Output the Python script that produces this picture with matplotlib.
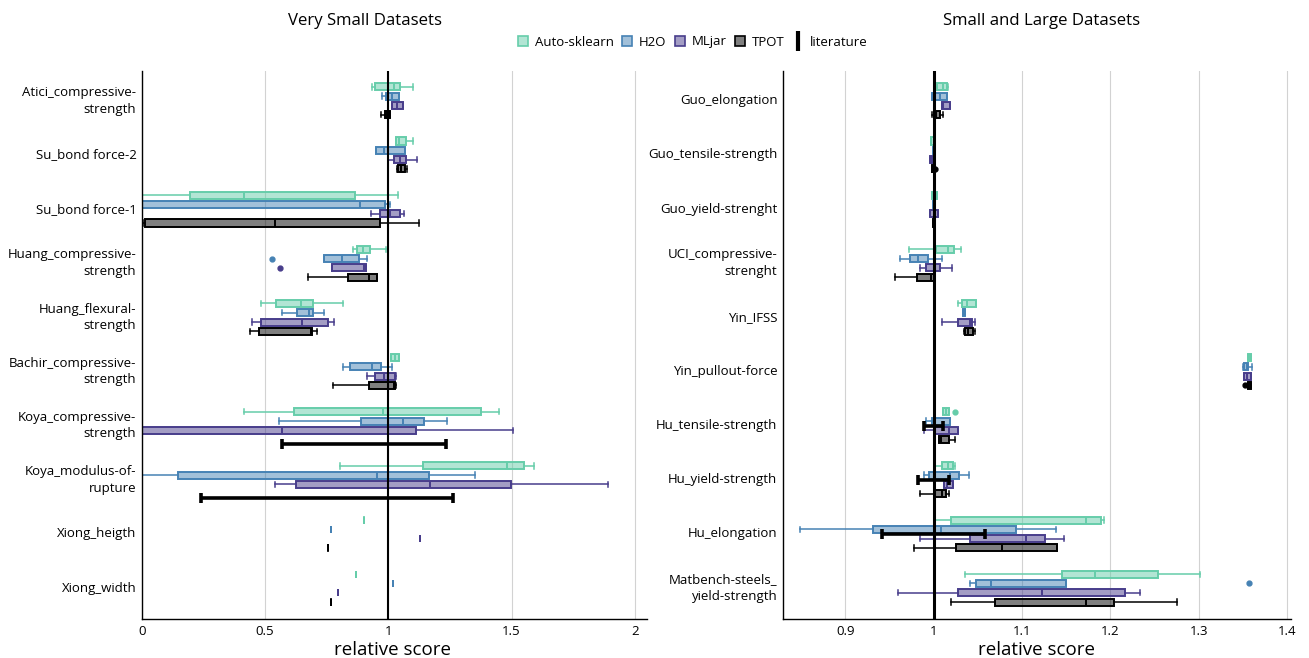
import matplotlib
matplotlib.use("Agg")
import matplotlib.pyplot as plt
from matplotlib.lines import Line2D
from matplotlib.colors import to_rgba

plt.rcParams['font.family'] = ['Open Sans', 'DejaVu Sans']

# ---------------- data ----------------
engines = ["Auto-sklearn", "H2O", "MLjar", "TPOT"]

left_categories = ["Atici_compressive-\nstrength", "Su_bond force-2", "Su_bond force-1",
                   "Huang_compressive-\nstrength", "Huang_flexural-\nstrength",
                   "Bachir_compressive-\nstrength", "Koya_compressive-\nstrength",
                   "Koya_modulus-of-\nrupture", "Xiong_heigth", "Xiong_width"]

right_categories = ["Guo_elongation", "Guo_tensile-strength", "Guo_yield-strenght",
                    "UCI_compressive-\nstrenght", "Yin_IFSS", "Yin_pullout-force",
                    "Hu_tensile-strength", "Hu_yield-strength", "Hu_elongation",
                    "Matbench-steels_\nyield-strength"]

# box statistics per category: (whisker low, q1, median, q3, whisker high)
left_autosklearn = [(0.934, 0.947, 1.024, 1.049, 1.100),
                    (1.030, 1.030, 1.043, 1.072, 1.100),
                    (-0.30, 0.196, 0.415, 0.865, 1.039),
                    (0.856, 0.874, 0.897, 0.927, 0.989),
                    (0.485, 0.545, 0.645, 0.696, 0.814),
                    (1.011, 1.011, 1.026, 1.043, 1.043),
                    (0.413, 0.615, 0.977, 1.377, 1.449),
                    (0.805, 1.142, 1.480, 1.550, 1.591),
                    (0.901, 0.901, 0.901, 0.901, 0.901),
                    (0.870, 0.870, 0.870, 0.870, 0.870)]
left_h2o = [(0.974, 0.991, 1.015, 1.042, 1.045),
            (0.950, 0.950, 0.981, 1.069, 1.069),
            (-0.60, -0.30, 0.885, 0.985, 1.008),
            (0.738, 0.738, 0.812, 0.881, 0.912),
            (0.568, 0.631, 0.676, 0.696, 0.740),
            (0.814, 0.846, 0.934, 0.970, 1.016),
            (0.557, 0.888, 1.060, 1.144, 1.237),
            (-0.05, 0.145, 0.954, 1.167, 1.350),
            (0.768, 0.768, 0.768, 0.768, 0.768),
            (1.020, 1.020, 1.020, 1.020, 1.020)]
left_mljar = [(1.015, 1.015, 1.035, 1.058, 1.058),
              (0.997, 1.022, 1.046, 1.072, 1.115),
              (0.930, 0.965, 1.008, 1.047, 1.062),
              (0.772, 0.772, 0.900, 0.911, 0.911),
              (0.446, 0.485, 0.648, 0.755, 0.778),
              (0.915, 0.945, 0.982, 1.028, 1.030),
              (-0.50, -0.20, 0.568, 1.114, 1.508),
              (0.541, 0.625, 1.171, 1.499, 1.890),
              (1.127, 1.127, 1.127, 1.127, 1.127),
              (0.797, 0.797, 0.797, 0.797, 0.797)]
left_tpot = [(0.970, 0.985, 0.995, 1.005, 1.005),
             (1.034, 1.039, 1.052, 1.068, 1.077),
             (0.005, 0.012, 0.538, 0.966, 1.125),
             (0.675, 0.835, 0.921, 0.953, 0.953),
             (0.438, 0.474, 0.688, 0.692, 0.711),
             (0.776, 0.921, 1.022, 1.026, 1.030),
             None,
             None,
             (0.757, 0.757, 0.757, 0.757, 0.757),
             (0.768, 0.768, 0.768, 0.768, 0.768)]
left_fliers = {("H2O", "Huang_compressive-\nstrength"): [0.526],
               ("MLjar", "Huang_compressive-\nstrength"): [0.561]}

right_autosklearn = [(1.001, 1.004, 1.010, 1.015, 1.016),
                     (0.997, 0.997, 1.000, 1.002, 1.002),
                     (0.998, 0.998, 1.001, 1.004, 1.004),
                     (0.972, 1.003, 1.016, 1.023, 1.031),
                     (1.028, 1.032, 1.038, 1.048, 1.048),
                     (1.3556, 1.3556, 1.357, 1.359, 1.359),
                     (1.011, 1.011, 1.014, 1.017, 1.017),
                     (1.000, 1.009, 1.0166, 1.0215, 1.0245),
                     (1.0007, 1.019, 1.172, 1.1895, 1.193),
                     (1.035, 1.145, 1.183, 1.254, 1.301)]
right_h2o = [(0.998, 0.998, 1.007, 1.015, 1.015),
             (0.999, 0.999, 1.000, 1.001, 1.001),
             (0.9989, 0.9989, 1.0005, 1.0019, 1.0019),
             (0.9615, 0.973, 0.982, 0.994, 1.009),
             (1.033, 1.033, 1.034, 1.035, 1.035),
             (1.350, 1.351, 1.3545, 1.3556, 1.3605),
             (0.991, 0.998, 1.000, 1.018, 1.018),
             (0.989, 0.9947, 1.0185, 1.029, 1.040),
             (0.849, 0.931, 1.0086, 1.093, 1.138),
             (1.0415, 1.0476, 1.0645, 1.1495, 1.1495)]
right_mljar = [(1.009, 1.009, 1.011, 1.018, 1.018),
               (0.9955, 0.9955, 0.998, 1.000, 1.000),
               (0.996, 0.996, 1.0007, 1.005, 1.005),
               (0.985, 0.991, 1.002, 1.007, 1.021),
               (1.009, 1.028, 1.041, 1.043, 1.047),
               (1.3518, 1.3518, 1.355, 1.359, 1.359),
               (0.989, 1.000, 1.017, 1.027, 1.027),
               (1.012, 1.012, 1.015, 1.0215, 1.0215),
               (0.984, 1.041, 1.105, 1.126, 1.147),
               (0.960, 1.028, 1.123, 1.217, 1.234)]
right_tpot = [(0.998, 1.000, 1.003, 1.007, 1.010),
              (0.9985, 0.9985, 0.9995, 1.0005, 1.0005),
              (0.999, 0.999, 1.000, 1.001, 1.001),
              (0.956, 0.981, 0.997, 1.002, 1.002),
              (1.034, 1.035, 1.039, 1.044, 1.047),
              (1.3556, 1.3556, 1.3575, 1.3594, 1.3594),
              (1.006, 1.006, 1.008, 1.017, 1.0245),
              (0.9845, 1.0007, 1.009, 1.014, 1.017),
              (0.978, 1.025, 1.077, 1.1396, 1.1396),
              (1.019, 1.069, 1.173, 1.204, 1.2755)]
right_fliers = {("Auto-sklearn", "Hu_tensile-strength"): [1.0245],
                ("H2O", "Matbench-steels_\nyield-strength"): [1.357],
                ("TPOT", "Guo_tensile-strength"): [1.002],
                ("TPOT", "Yin_pullout-force"): [1.3526]}

left_literature_categories = ["Koya_compressive-\nstrength", "Koya_modulus-of-\nrupture"]
left_literature_low = [0.569, 0.239]
left_literature_high = [1.234, 1.263]

right_literature_categories = ["Hu_tensile-strength", "Hu_yield-strength", "Hu_elongation"]
right_literature_low = [0.989, 0.9826, 0.941]
right_literature_high = [1.0105, 1.0177, 1.058]

# ---------------- styling ----------------
colors = ["#66CDAA", "#4682B4", "#483D8B", "#000000"]
offsets = [-0.257, -0.086, 0.086, 0.257]

fig = plt.figure(figsize=(13.09, 6.58), dpi=100)
H = 658.0
W = 1309.0
ax_l = fig.add_axes([142 / W, 1 - 619 / H, 505 / W, 548 / H])
ax_r = fig.add_axes([783 / W, 1 - 619 / H, 508 / W, 548 / H])


def draw_panel(ax, cats, series, fliers, lit_cats, lit_lo, lit_hi, lit_offset,
               xlim, xticks, xticklabels, refw):
    for k, (eng, stats) in enumerate(zip(engines, series)):
        col = colors[k]
        bstats, pos = [], []
        for i, s in enumerate(stats):
            if s is None:
                continue
            lo, q1, med, q3, hi = s
            bstats.append(dict(whislo=lo, q1=q1, med=med, q3=q3, whishi=hi,
                               fliers=fliers.get((eng, cats[i]), [])))
            pos.append(i + offsets[k])
        ax.bxp(bstats, positions=pos, widths=0.13, orientation='horizontal',
               patch_artist=True, capwidths=0.1, showfliers=True, manage_ticks=False,
               boxprops=dict(facecolor=to_rgba(col, 0.5), edgecolor=col, linewidth=1.4),
               medianprops=dict(color=col, linewidth=1.4),
               whiskerprops=dict(color=col, linewidth=1.1),
               capprops=dict(color=col, linewidth=1.1),
               flierprops=dict(marker='o', markerfacecolor=col, markeredgecolor=col,
                               markersize=3.5, linestyle='none'))
    ax.axvline(1.0, color='black', linewidth=refw, zorder=3)
    lit_y = [cats.index(c) + lit_offset for c in lit_cats]
    ax.errorbar(lit_lo, lit_y,
                xerr=[[0] * len(lit_lo), [h - l for l, h in zip(lit_lo, lit_hi)]],
                fmt='none', ecolor='black', elinewidth=2.6, capsize=3.3, capthick=2.6,
                zorder=4)
    ax.set_xlim(*xlim)
    ax.set_ylim(9.57, -0.55)
    ax.set_xticks(xticks)
    ax.set_xticklabels(xticklabels)
    ax.set_yticks(range(len(cats)))
    ax.set_yticklabels(cats, linespacing=1.36)
    for lab in ax.get_yticklabels():
        lab.set_verticalalignment('center')
    ax.tick_params(length=0, pad=4, labelsize=9.5)
    ax.grid(axis='x', color='#d2d2d2', linewidth=0.8)
    ax.grid(axis='y', visible=False)
    ax.set_axisbelow(True)
    for sp in ['top', 'right']:
        ax.spines[sp].set_visible(False)
    for sp in ['left', 'bottom']:
        ax.spines[sp].set_linewidth(1.0)
        ax.spines[sp].set_color('black')


draw_panel(ax_l, left_categories, [left_autosklearn, left_h2o, left_mljar, left_tpot],
           left_fliers, left_literature_categories, left_literature_low,
           left_literature_high, 0.33, (0, 2.05), [0, 0.5, 1, 1.5, 2],
           ["0", "0.5", "1", "1.5", "2"], 1.5)
draw_panel(ax_r, right_categories, [right_autosklearn, right_h2o, right_mljar, right_tpot],
           right_fliers, right_literature_categories, right_literature_low,
           right_literature_high, 0.0, (0.8293, 1.4046), [0.9, 1.0, 1.1, 1.2, 1.3, 1.4],
           ["0.9", "1", "1.1", "1.2", "1.3", "1.4"], 2.2)

fig.text(365 / W, 1 - 21 / H, "Very Small Datasets", ha='center', va='center', fontsize=12.1)
fig.text(1042 / W, 1 - 21 / H, "Small and Large Datasets", ha='center', va='center', fontsize=12.1)
fig.text(393 / W, 1 - 650 / H, "relative score", ha='center', va='center', fontsize=13.5)
fig.text(1037 / W, 1 - 650 / H, "relative score", ha='center', va='center', fontsize=13.5)

handles = [Line2D([], [], marker='s', linestyle='none', markersize=6.5,
                  markerfacecolor=to_rgba(c, 0.5), markeredgecolor=c, markeredgewidth=1.2)
           for c in colors]
handles.append(Line2D([], [], marker='|', linestyle='none', markersize=14,
                      markeredgewidth=3, color='black'))
fig.legend(handles, engines + ["literature"], loc='center',
           bbox_to_anchor=(692 / W, 1 - 42 / H), ncol=5, frameon=False,
           handlelength=1.0, handletextpad=0.4, columnspacing=0.5, fontsize=9.5)

fig.savefig("out.png", dpi=100)
